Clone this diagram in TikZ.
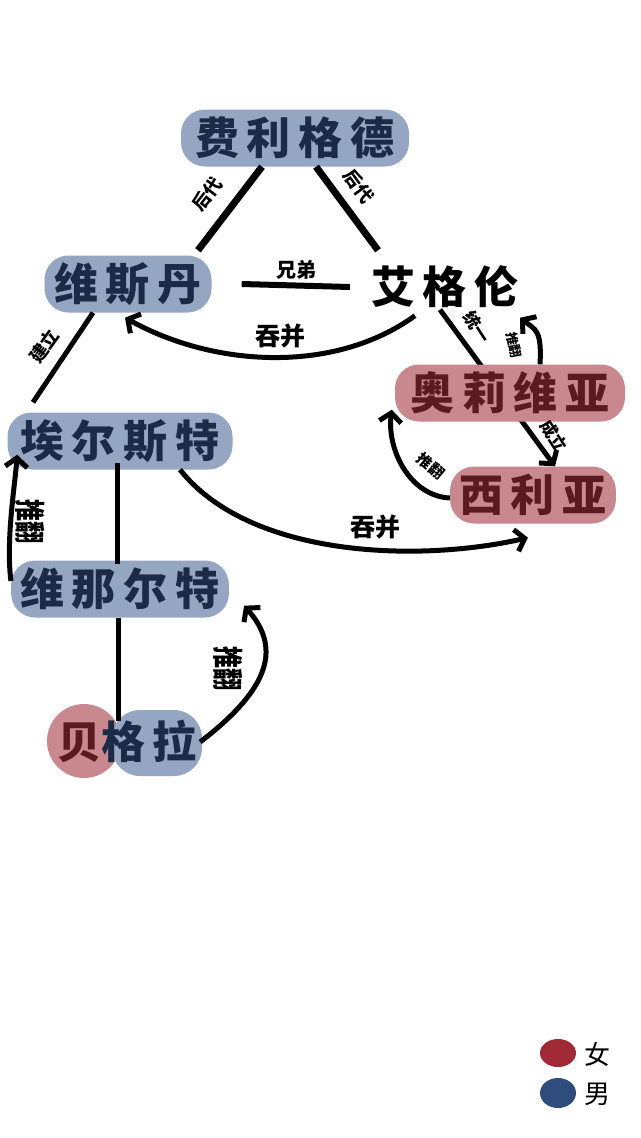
\documentclass[tikz,border=0pt]{standalone}
\usepackage{fontspec}
\newfontfamily\cjk{Noto Sans CJK SC}[LetterSpace=18]
\newfontfamily\cjklabel{Noto Sans CJK SC}
\usetikzlibrary{arrows.meta}
\definecolor{manblob}{HTML}{94A6C1}
\definecolor{mantext}{HTML}{1B2A46}
\definecolor{womanblob}{HTML}{C9878E}
\definecolor{womantext}{HTML}{5B1A20}
\definecolor{legendred}{HTML}{A02A36}
\definecolor{legendblue}{HTML}{2E4C7C}

\begin{document}
\begin{tikzpicture}[x=1pt,y=-1pt,
    >={Straight Barb[length=9pt,width=22pt]},
    person/.style={font=\cjk\bfseries\fontsize{44}{44}\selectfont,
      text height=38pt,text depth=5pt,inner xsep=9pt,inner ysep=7pt},
    man/.style={person,fill=manblob,rounded corners=24pt,text=mantext},
    woman/.style={person,fill=womanblob,rounded corners=24pt,text=womantext},
    tie/.style={line width=5pt},
    rel/.style={font=\cjklabel\bfseries\fontsize{#1}{#1}\selectfont,inner sep=1pt},
    rel/.default=18]
    \useasboundingbox [fill=white] (0,0) rectangle (640,1138);

    % top of the family
    \path (295,138) node [man,minimum width=228pt] (fei) {费利格德};
    \path (128,284) node [man,minimum width=167pt] (wei) {维斯丹};
    \path (445,287) node [person] (ai) {艾格伦};
    \draw [line width=7pt] ([xshift=-33pt]fei.south) -- ([xshift=70pt,yshift=5pt]wei.north);
    \draw [line width=7pt] ([xshift=21pt]fei.south) -- ([xshift=-67pt,yshift=8pt]ai.north);
    \path (207,194) node [rel,rotate=52] (hou1) {后代};
    \path (359,186) node [rel,rotate=-54] (hou2) {后代};
    \draw [line width=6pt] ([xshift=30pt]wei.east) -- ([xshift=-12pt]ai.west);
    \path (296,270) node [rel=20] (xiong) {兄弟};

    % right branch
    \path (533,495) node [woman,minimum width=154pt] (xi) {西利亚};
    \draw [->,tie] ([xshift=-5pt,yshift=6pt]ai.south) -- ([xshift=22pt]xi.north);
    \path (510,393) node [woman,minimum width=230pt] (ao) {奥莉维亚};
    \path (477,327) node [rel=17,rotate=-57] (tong) {统一};
    \path (554,436) node [rel=17,rotate=-57] (cheng) {成立};
    \draw [->,tie] ([xshift=30pt]ao.north) .. controls +(2,-35) and +(15,12) .. ([xshift=-8pt,yshift=-2pt]ai.south east);
    \path (514,345) node [rel=13,rotate=-80] (tui1) {推翻};
    \draw [->,tie] ([yshift=-3pt]xi.west) .. controls +(-40,-2) and +(-5,40) .. ([xshift=-3pt,yshift=12pt]ao.south west);
    \path (431,466) node [rel=15,rotate=-40] (tui2) {推翻};

    % left branch
    \path (120,441) node [man,minimum width=225pt] (ae) {埃尔斯特};
    \path (120,589) node [man,minimum width=210pt] (wn) {维那尔特};
    \draw [tie] ([xshift=-35pt]wei.south) -- ([xshift=-87pt,yshift=10pt]ae.north);
    \path (44,346) node [rel,rotate=54] (jian) {建立};
    \draw [->,tie] ([xshift=-30pt]ai.south) .. controls +(-80,58) and +(90,50) .. ([xshift=-3pt,yshift=-5pt]wei.south);
    \path (280,336) node [rel=25] (tun1) {吞并};
    \draw [->,tie] ([xshift=60pt]ae.south) .. controls +(70,88) and +(-110,25) .. ([xshift=-5pt,yshift=-14pt]xi.south);
    \path (375,527) node [rel=25] (tun2) {吞并};
    \draw [tie] ([xshift=-3pt,yshift=7pt]ae.south) -- ([xshift=-3pt,yshift=-4pt]wn.north);
    \draw [->,tie] ([yshift=8pt]wn.west) .. controls +(-5,-40) and +(-3,35) .. ([xshift=10pt,yshift=15pt]ae.south west);
    \path (30,521) node [rel=22,rotate=-90,yscale=1.4] (tui3) {推翻};

    % the daughter
    \fill [womanblob] (84,741) circle [radius=37];
    \fill [manblob,rounded corners=28pt] (112,710) rectangle (202,776);
    \path (127,742) node [person,text=mantext] (be) {\textcolor{womantext}{贝}格拉};
    \draw [tie] ([xshift=-2pt]wn.south) -- ([xshift=-9pt,yshift=-8pt]be.north);
    \draw [->,tie] ([xshift=-6pt]be.east) .. controls +(65,-50) and +(40,45) .. ([xshift=15pt,yshift=12pt]wn.south east);
    \path (228,668) node [rel=22,rotate=-90,yscale=1.4] (tui4) {推翻};

    % legend
    \fill [legendred] (558,1053) ellipse [x radius=18,y radius=14];
    \fill [legendblue] (558,1093) ellipse [x radius=18,y radius=15];
    \path (597,1054) node [font=\cjklabel\fontsize{26}{26}\selectfont] (nv) {女};
    \path (597,1094) node [font=\cjklabel\fontsize{26}{26}\selectfont] (nan) {男};
\end{tikzpicture}
\end{document}
